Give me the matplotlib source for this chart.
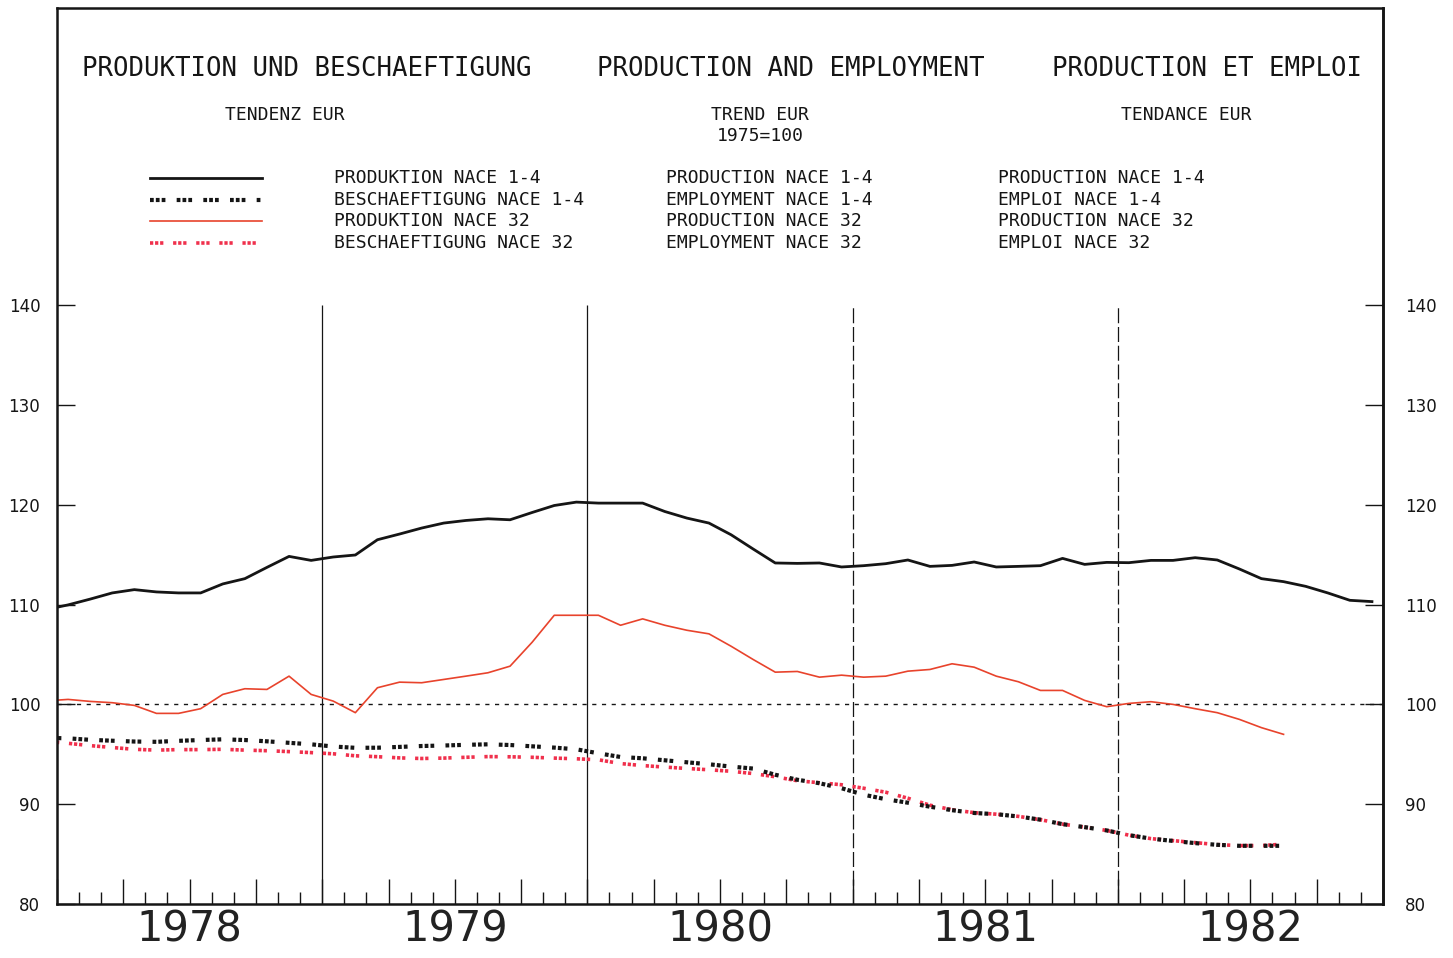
import matplotlib
matplotlib.use("Agg")
import matplotlib.pyplot as plt
import numpy as np
from matplotlib.lines import Line2D

# ---------------- data (monthly, starting December 1977) ----------------
start_year = 1977
start_month_index = 11  # December

prod_nace14 = [109.5,
               109.97, 110.55, 111.17, 111.5, 111.27, 111.17, 111.17, 112.07, 112.6, 113.73, 114.83, 114.43,
               114.77, 114.97, 116.5, 117.07, 117.67, 118.17, 118.43, 118.6, 118.5, 119.23, 119.93, 120.27,
               120.17, 120.17, 120.17, 119.33, 118.67, 118.17, 117.0, 115.57, 114.17, 114.13, 114.17, 113.77,
               113.9, 114.1, 114.47, 113.83, 113.93, 114.27, 113.77, 113.83, 113.9, 114.63, 114.03, 114.23,
               114.2, 114.43, 114.43, 114.7, 114.47, 113.57, 112.6, 112.3, 111.83, 111.17, 110.43, 110.3]

prod_nace32 = [100.35,
               100.5, 100.3, 100.17, 99.9, 99.1, 99.1, 99.57, 101.0, 101.57, 101.5, 102.83, 101.0,
               100.33, 99.17, 101.67, 102.23, 102.17, 102.5, 102.83, 103.17, 103.83, 106.23, 108.93, 108.93,
               108.93, 107.93, 108.57, 107.93, 107.43, 107.07, 105.83, 104.5, 103.23, 103.3, 102.73, 102.93,
               102.73, 102.83, 103.33, 103.5, 104.07, 103.73, 102.83, 102.27, 101.4, 101.4, 100.4, 99.77,
               100.1, 100.27, 100.0, 99.57, 99.17, 98.5, 97.67, 97.0]

emp_nace14 = [96.65,
              96.6, 96.45, 96.36, 96.28, 96.25, 96.35, 96.43, 96.5, 96.43, 96.3, 96.15, 96.0,
              95.78, 95.65, 95.66, 95.74, 95.83, 95.88, 95.95, 96.0, 95.93, 95.8, 95.67, 95.5,
              95.1, 94.73, 94.6, 94.4, 94.2, 94.0, 93.77, 93.57, 92.95, 92.45, 92.1, 91.6,
              90.95, 90.5, 90.15, 89.75, 89.4, 89.12, 89.0, 88.77, 88.45, 88.0, 87.7, 87.37,
              86.9, 86.55, 86.32, 86.1, 85.93, 85.83, 85.83, 85.83]

emp_nace32 = [96.3,
              96.1, 95.87, 95.68, 95.5, 95.42, 95.47, 95.47, 95.5, 95.42, 95.36, 95.27, 95.17,
              95.05, 94.85, 94.76, 94.64, 94.58, 94.62, 94.7, 94.77, 94.75, 94.7, 94.62, 94.55,
              94.45, 94.07, 93.87, 93.72, 93.58, 93.45, 93.3, 93.07, 92.75, 92.35, 92.15, 91.95,
              91.6, 91.2, 90.6, 89.9, 89.45, 89.15, 89.0, 88.78, 88.45, 88.0, 87.7, 87.37,
              86.9, 86.55, 86.35, 86.15, 85.95, 85.85, 85.85, 86.0]

years = [1978, 1979, 1980, 1981, 1982]
year_labels = ["1978", "1979", "1980", "1981", "1982"]
y_ticks = [80, 90, 100, 110, 120, 130, 140]

titles = ["PRODUKTION UND BESCHAEFTIGUNG", "PRODUCTION AND EMPLOYMENT", "PRODUCTION ET EMPLOI"]
subtitles = ["TENDENZ EUR", "TREND EUR\n1975=100", "TENDANCE EUR"]
legend_de = ["PRODUKTION NACE 1-4", "BESCHAEFTIGUNG NACE 1-4", "PRODUKTION NACE 32", "BESCHAEFTIGUNG NACE 32"]
legend_en = ["PRODUCTION NACE 1-4", "EMPLOYMENT NACE 1-4", "PRODUCTION NACE 32", "EMPLOYMENT NACE 32"]
legend_fr = ["PRODUCTION NACE 1-4", "EMPLOI NACE 1-4", "PRODUCTION NACE 32", "EMPLOI NACE 32"]


def month_x(n):
    return start_year + (start_month_index + np.arange(n) + 0.5) / 12.0


# ---------------- styles ----------------
BLACK = "#151515"
RED = "#e8432c"
PINK = "#f0304c"
DOTS = (0, (0.9, 0.5, 0.9, 0.5, 0.9, 2.7))
MONO = "DejaVu Sans Mono"

W, H = 1453, 958
L, R, B, T = 57, 1383, 904, 8
PX_PER_UNIT = 9.98

fig = plt.figure(figsize=(W / 100, H / 100), dpi=100)
fig.patch.set_facecolor("white")
ax = fig.add_axes([L / W, 1 - B / H, (R - L) / W, (B - T) / H])
ax.set_xlim(1978, 1983)
ax.set_ylim(80, 80 + (B - T) / PX_PER_UNIT)

for s in ax.spines.values():
    s.set_linewidth(1.8)
    s.set_color(BLACK)

# reference and year lines
ax.axhline(100, color=BLACK, lw=1.0, dashes=(3, 4))
ax.vlines(years[1:3], 80, 140, color=BLACK, lw=0.9)
ax.vlines(years[3:], 80, 140, color=BLACK, lw=0.9, linestyles=[(0, (12, 3))])

# series
ax.plot(month_x(len(emp_nace32)), emp_nace32, color=PINK, lw=2.6, linestyle=DOTS,
        solid_capstyle="butt", dash_capstyle="butt")
ax.plot(month_x(len(emp_nace14)), emp_nace14, color=BLACK, lw=3.0, linestyle=DOTS,
        dash_capstyle="butt")
ax.plot(month_x(len(prod_nace32)), prod_nace32, color=RED, lw=1.2)
ax.plot(month_x(len(prod_nace14)), prod_nace14, color=BLACK, lw=2.0)

# y ticks: left and right
ax.set_yticks(y_ticks)
ax.set_yticklabels([str(v) for v in y_ticks])
ax.tick_params(axis="y", direction="in", length=13, width=1.0, left=True, right=False,
               labelsize=12, pad=12, colors=BLACK)
sec = ax.secondary_yaxis("right")
sec.set_yticks(y_ticks)
sec.set_yticklabels([str(v) for v in y_ticks])
sec.tick_params(axis="y", direction="in", length=13, width=1.0, labelsize=12, pad=16, colors=BLACK)
sec.spines["right"].set_linewidth(1.8)

# x ticks: quarters (long) and months (short), labels via text
ax.set_xticks(np.arange(1978, 1983.01, 0.25))
ax.set_xticks(np.arange(1978, 1983.01, 1 / 12), minor=True)
ax.tick_params(axis="x", which="major", direction="in", length=18, width=1.0, labelbottom=False,
               colors=BLACK)
ax.tick_params(axis="x", which="minor", direction="in", length=9, width=1.0, colors=BLACK)
for yv, lab in zip(years, year_labels):
    ax.text(yv + 0.5, -0.029, lab, transform=ax.get_xaxis_transform(), ha="center", va="center",
            fontsize=30, color="#222222", family="DejaVu Sans")

# titles
title_x = [82, 597, 1052]
for tx, t in zip(title_x, titles):
    fig.text(tx / W, 1 - 69 / H, t, family=MONO, fontsize=18.5, ha="left", va="center", color=BLACK)

sub_x = [285, 760, 1186]
for sx, st in zip(sub_x, subtitles):
    fig.text(sx / W, 1 - 106 / H, st, family=MONO, fontsize=13, ha="center", va="top",
             color=BLACK, linespacing=1.2)

# legend
leg_y = [178, 200, 221, 243]
leg_styles = [dict(color=BLACK, lw=2.0),
              dict(color=BLACK, lw=3.0, linestyle=DOTS),
              dict(color=RED, lw=1.2),
              dict(color=PINK, lw=2.6, linestyle=DOTS)]
for ly, st in zip(leg_y, leg_styles):
    fig.add_artist(Line2D([150 / W, 262 / W], [1 - ly / H, 1 - ly / H], transform=fig.transFigure,
                          dash_capstyle="butt", **st))
for colx, texts in zip([334, 666, 998], [legend_de, legend_en, legend_fr]):
    for ly, tx in zip(leg_y, texts):
        fig.text(colx / W, 1 - ly / H, tx, family=MONO, fontsize=13, ha="left", va="center",
                 color=BLACK)

fig.savefig("out.png", dpi=100, facecolor="white")
